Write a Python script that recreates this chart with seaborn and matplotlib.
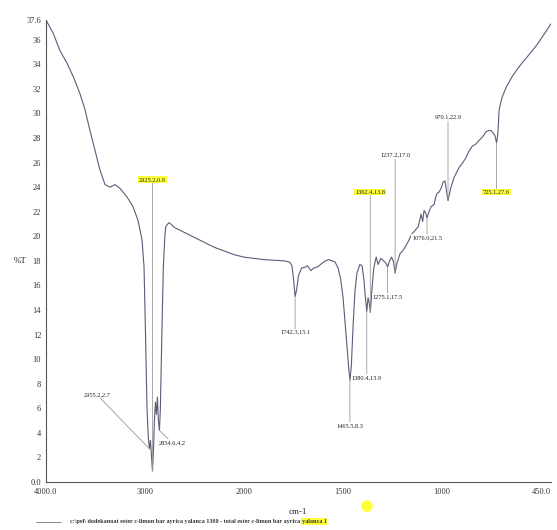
import numpy as np
import pandas as pd
import matplotlib
matplotlib.use("Agg")
import matplotlib.pyplot as plt
from matplotlib.lines import Line2D
from matplotlib.patches import Ellipse
import seaborn as sns

# Spektrum (Wellenzahl in cm-1, %T)
wavenumber = [4000, 3926, 3859, 3788, 3720, 3657, 3606, 3556, 3505, 3455, 3404,
              3354, 3303, 3253, 3182, 3121, 3071, 3030, 3010, 2995, 2980, 2966,
              2955, 2945, 2935, 2925, 2915, 2905, 2895, 2885, 2875, 2865, 2854,
              2845, 2830, 2815, 2800, 2790, 2760, 2740, 2700, 2600, 2500, 2400,
              2300, 2200, 2100, 2000, 1900, 1800, 1770, 1758, 1750, 1742, 1735,
              1725, 1710, 1690, 1680, 1662, 1650, 1630, 1606, 1590, 1571, 1555,
              1540, 1525, 1512, 1500, 1490, 1478, 1470, 1465, 1458, 1450, 1440,
              1430, 1415, 1404, 1395, 1386, 1380, 1374, 1368, 1362, 1355, 1345,
              1333, 1323, 1310, 1295, 1283, 1275, 1265, 1255, 1245, 1237, 1228,
              1212, 1200, 1187, 1170, 1152, 1135, 1120, 1106, 1098, 1091, 1083,
              1076, 1066, 1056, 1040, 1032, 1025, 1015, 1005, 995, 985, 977,
              970, 963, 955, 939, 914, 895, 879, 865, 849, 830, 813, 795, 778,
              765, 753, 742, 733, 725, 718, 712, 697, 677, 646, 620, 596, 570,
              545, 520, 495, 470, 450]
transmittance = [37.6, 36.5, 35.1, 34.1, 32.9, 31.6, 30.3, 28.6, 27.0, 25.4, 24.2,
                 24.0, 24.2, 23.9, 23.2, 22.4, 21.3, 19.7, 17.5, 12.0, 6.0, 3.5,
                 2.7, 3.4, 2.2, 0.9, 2.5, 5.0, 6.5, 5.5, 6.9, 5.0, 4.2,
                 6.0, 12.0, 17.5, 20.0, 20.8, 21.1, 21.0, 20.7, 20.3, 19.9, 19.5,
                 19.1, 18.8, 18.5, 18.3, 18.1, 18.0, 17.9, 17.6, 16.5, 15.1, 15.6,
                 16.8, 17.4, 17.5, 17.6, 17.2, 17.4, 17.5, 17.8, 18.0, 18.1, 18.0,
                 17.9, 17.4, 16.5, 15.0, 13.0, 10.5, 9.0, 8.3, 9.5, 12.5, 15.5,
                 17.0, 17.7, 17.6, 16.5, 14.8, 13.9, 15.0, 14.6, 13.8, 15.5, 17.4,
                 18.3, 17.7, 18.2, 18.0, 17.8, 17.5, 18.0, 18.3, 17.9, 17.0, 17.8,
                 18.6, 18.8, 19.1, 19.6, 20.2, 20.5, 20.8, 21.8, 21.2, 22.1, 21.9,
                 21.5, 22.0, 22.4, 22.6, 23.2, 23.5, 23.6, 23.9, 24.4, 24.5, 23.6,
                 22.9, 23.4, 24.0, 24.8, 25.6, 26.0, 26.4, 26.9, 27.3, 27.5, 27.8, 28.1, 28.5,
                 28.6, 28.6, 28.4, 28.2, 27.6, 28.4, 30.3, 31.3, 32.1, 33.0, 33.6, 34.1, 34.6,
                 35.1, 35.6, 36.2, 36.8, 37.3]

# markierte Peaks
peak_wn = [2955.2, 2925.2, 2854.6, 1742.3, 1465.5, 1380.4, 1362.4, 1275.1, 1237.2, 1076.0, 970.1, 725.1]
peak_t = [2.7, 0.9, 4.2, 15.1, 8.3, 13.9, 13.8, 17.5, 17.0, 21.5, 22.9, 27.6]
peak_labels = ["2955.2,2.7", "2925.2,0.9", "2854.6,4.2", "1742.3,15.1", "1465.5,8.3",
               "1380.4,13.9", "1362.4,13.8", "1275.1,17.5", "1237.2,17.0", "1076.0,21.5",
               "970.1,22.9", "725.1,27.6"]
highlighted = ["2925.2,0.9", "1362.4,13.8", "725.1,27.6"]
# Position der Beschriftung (Wellenzahl, %T)
label_pos = [(3485, 7.1), (2925.2, 24.6), (2727, 3.2), (1742.3, 12.2), (1465.5, 4.6),
             (1380.4, 8.5), (1362.4, 23.6), (1275.1, 15.1), (1237.2, 26.6), (1076.0, 19.9),
             (970.1, 29.7), (725.1, 23.6)]

x_ticks = [4000, 3000, 2000, 1500, 1000, 450]
x_ticklabels = ["4000.0", "3000", "2000", "1500", "1000", "450.0"]
y_ticks = [0, 2, 4, 6, 8, 10, 12, 14, 16, 18, 20, 22, 24, 26, 28, 30, 32, 34, 36, 37.6]
y_ticklabels = ["0.0"] + [str(v) for v in y_ticks[1:-1]] + ["37.6"]

caption = "c:\\pel\\ dodekanoat ester c-limon bar ayrica yalanca 1300 - total ester c-limon bar ayrica"
caption_hl = "yalanca 1"


# unter 2000 cm-1 doppelt gedehnt (wie im Spektrometer-Ausdruck)
def fwd(w):
    w = np.asarray(w, dtype=float)
    return np.where(w >= 2000, 2 + (w - 2000) / 1000, w / 500 - 2)


def inv(u):
    u = np.asarray(u, dtype=float)
    return np.where(u >= 2, 2000 + (u - 2) * 1000, (u + 2) * 500)


df = pd.DataFrame({"wn": wavenumber, "T": transmittance})

sns.set_theme(style="white")
plt.rcParams['font.family'] = ['Liberation Serif', 'DejaVu Serif']

fig = plt.figure(figsize=(5.57, 5.30), dpi=100)
ax = fig.add_axes([46 / 557, 48 / 530, 505 / 557, 462 / 530])
ax.set_xscale('function', functions=(fwd, inv))

sns.lineplot(data=df, x="wn", y="T", sort=False, estimator=None,
             color="#5c5c7a", linewidth=0.8, ax=ax)

for wn, t, lab, pos in zip(peak_wn, peak_t, peak_labels, label_pos):
    fc = "#ffff3a" if lab in highlighted else "white"
    ax.annotate(lab, xy=(wn, t), xytext=pos, ha="center", va="center",
                fontsize=4.6, color="#222222",
                bbox=dict(boxstyle="square,pad=0.15", fc=fc, ec="none"),
                arrowprops=dict(arrowstyle="-", color="#9a9a9a", lw=0.6,
                                shrinkA=0, shrinkB=0))

ax.set_xlim(4000, 450)
ax.set_ylim(0, 37.6)
ax.set_xticks(x_ticks)
ax.set_xticklabels(x_ticklabels)
ax.set_yticks(y_ticks)
ax.set_yticklabels(y_ticklabels)
ax.xaxis.set_minor_locator(matplotlib.ticker.NullLocator())
ax.tick_params(axis="both", labelsize=6, length=2, width=0.6, colors="#333333", pad=1.5)
ax.tick_params(axis="x", direction="in", pad=4)
# letzte Beschriftung rechtsbündig, damit sie im Bild bleibt
ax.get_xticklabels()[-1].set_ha("right")

for side in ["top", "right"]:
    ax.spines[side].set_visible(False)
for side in ["left", "bottom"]:
    ax.spines[side].set_color("#555555")
    ax.spines[side].set_linewidth(0.8)

ax.set_xlabel("cm-1", fontsize=6.5)
ax.xaxis.set_label_coords(0.499, -0.056)
ax.set_ylabel("%T", fontsize=6.5, rotation=0, ha="center", va="center")
ax.yaxis.set_label_coords(-0.051, 0.478)

# Fußzeile mit Dateiname
fig.add_artist(Line2D([0.065, 0.11], [0.016, 0.016], transform=fig.transFigure,
                      color="#777777", lw=0.6))
t1 = fig.text(0.125, 0.016, caption, fontsize=4.4, fontweight="bold",
              color="#333333", va="center")
fig.canvas.draw()
bb = t1.get_window_extent()
fig.text(bb.x1 / fig.bbox.width + 0.004, 0.016, caption_hl, fontsize=4.4,
         fontweight="bold", color="#333333", va="center",
         bbox=dict(boxstyle="square,pad=0.1", fc="#ffff3a", ec="none"))

# gelber Markierungspunkt aus dem Scan
fig.add_artist(Ellipse((0.659, 0.045), 0.021, 0.022, transform=fig.transFigure,
                       fc="#ffff3a", ec="none"))

fig.savefig("out.png", dpi=100)
